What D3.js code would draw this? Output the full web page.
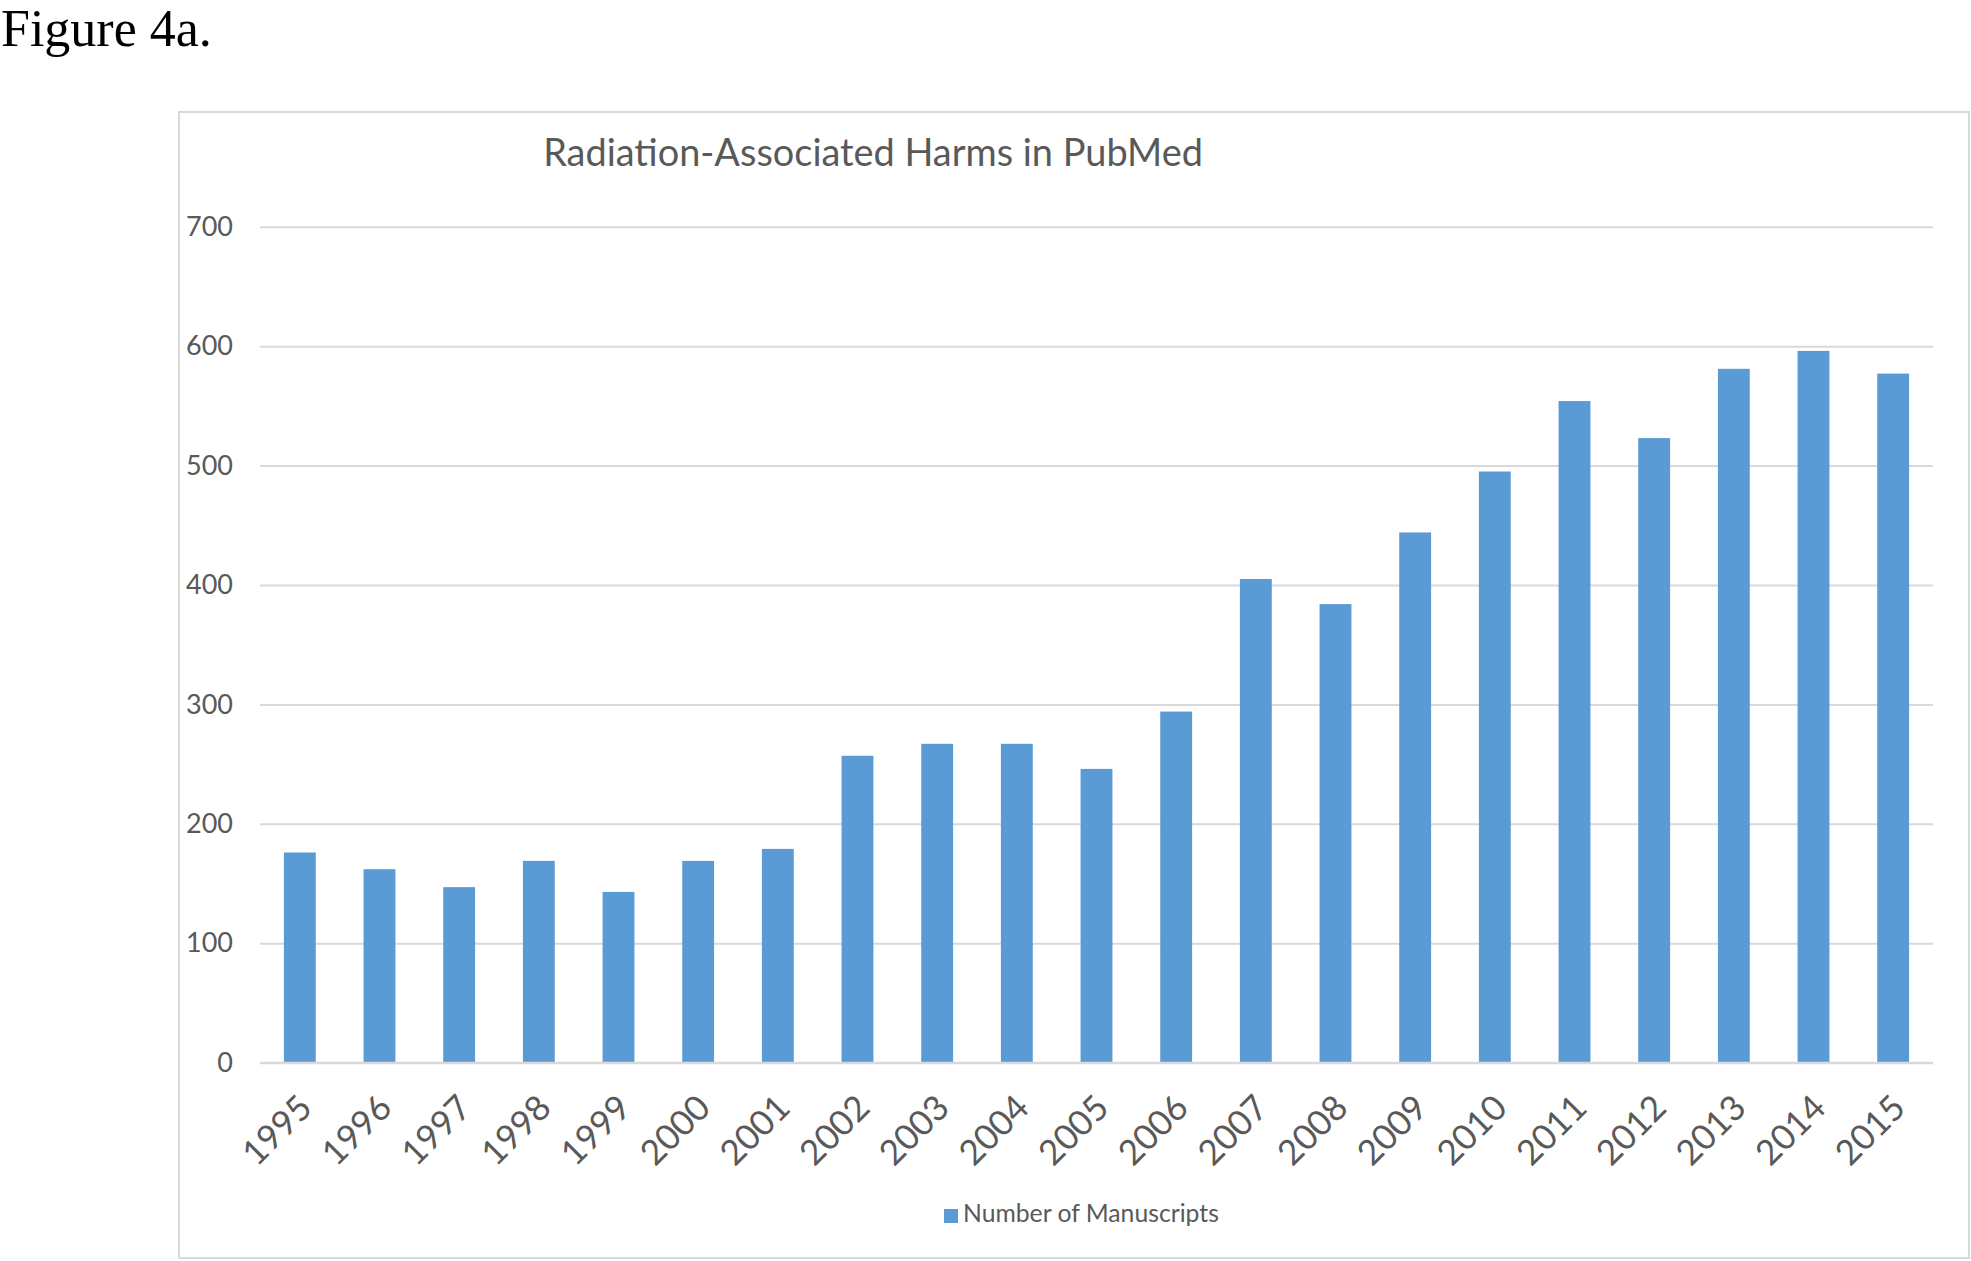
<!DOCTYPE html>
<html>
<head>
<meta charset="utf-8">
<script src="https://cdn.jsdelivr.net/npm/d3@7"></script>
<style>
  html, body { margin: 0; padding: 0; background: #ffffff; }
  svg { display: block; }
</style>
</head>
<body>
<svg id="chart" width="1971" height="1261"></svg>
<script>
// ---- data ----
const years = ["1995","1996","1997","1998","1999","2000","2001","2002","2003","2004","2005","2006","2007","2008","2009","2010","2011","2012","2013","2014","2015"];
const manuscripts = [176,162,147,169,143,169,179,257,267,267,246,294,405,384,444,495,554,523,581,596,577];
const yTicks = [0,100,200,300,400,500,600,700];
const seriesName = "Number of Manuscripts";
const chartTitle = "Radiation-Associated Harms in PubMed";
const figureLabel = "Figure 4a.";

// ---- layout ----
const W = 1971, H = 1261;
const plot = { left: 260, right: 1933, top: 226.7, bottom: 1062.7 };
const frame = { left: 179, top: 112, right: 1969, bottom: 1258 };
const grey = "#595959", gridCol = "#d9d9d9", barCol = "#5b9bd5";
const font = "Lato, 'Open Sans', sans-serif";

const svg = d3.select("#chart");

function fit(sel, target) {
  const n = sel.node();
  const fs = parseFloat(sel.attr("font-size"));
  const w = n.getComputedTextLength();
  sel.attr("font-size", (fs * target / w).toFixed(2));
}

// figure label
svg.append("text")
  .attr("x", 1).attr("y", 46)
  .attr("font-family", "'Liberation Serif', 'Times New Roman', serif")
  .attr("font-size", 52)
  .attr("fill", "#000")
  .text(figureLabel);

// chart frame
svg.append("rect")
  .attr("x", frame.left).attr("y", frame.top)
  .attr("width", frame.right - frame.left).attr("height", frame.bottom - frame.top)
  .attr("fill", "#fff").attr("stroke", gridCol).attr("stroke-width", 2);

// scales
const x = d3.scaleBand().domain(years).range([plot.left, plot.right]).paddingInner(0.6).paddingOuter(0.3);
const y = d3.scaleLinear().domain([0, 700]).range([plot.bottom, plot.top]);

// gridlines + y labels
const yAxis = d3.axisLeft(y).tickValues(yTicks).tickSize(-(plot.right - plot.left)).tickPadding(27).tickFormat(d3.format("d"));
const gy = svg.append("g").attr("transform", `translate(${plot.left},0)`).call(yAxis);
gy.select(".domain").remove();
gy.selectAll(".tick line").attr("stroke", gridCol).attr("stroke-width", 2);
gy.selectAll(".tick text")
  .attr("font-family", font).attr("font-size", 27).attr("fill", grey);
fit(gy.selectAll(".tick text").filter(d => d === 700), 47);
const yfs = gy.selectAll(".tick text").filter(d => d === 700).attr("font-size");
gy.selectAll(".tick text").attr("font-size", yfs);

// bars
svg.append("g").selectAll("rect").data(years).join("rect")
  .attr("x", d => x(d))
  .attr("width", x.bandwidth())
  .attr("y", (d, i) => y(manuscripts[i]))
  .attr("height", (d, i) => y(0) - y(manuscripts[i]))
  .attr("fill", barCol);

// x axis line (0 baseline) + rotated labels
const xAxis = d3.axisBottom(x).tickSize(0).tickPadding(0);
const gx = svg.append("g").attr("transform", `translate(0,${plot.bottom})`).call(xAxis);
gx.select(".domain").attr("stroke", gridCol).attr("stroke-width", 2)
  .attr("d", `M${plot.left},0H${plot.right}`);
gx.selectAll(".tick text")
  .attr("font-family", font).attr("font-size", 35).attr("fill", grey)
  .attr("text-anchor", "end")
  .attr("dy", null).attr("y", null)
  .attr("transform", "translate(8,41) rotate(-45)")
  .attr("dominant-baseline", "middle");

// title
const t = svg.append("text")
  .attr("x", 873).attr("y", 166)
  .attr("text-anchor", "middle")
  .attr("font-family", font).attr("font-size", 34)
  .attr("fill", grey)
  .text(chartTitle);
fit(t, 660);

// legend
svg.append("rect")
  .attr("x", 944).attr("y", 1209).attr("width", 14).attr("height", 14)
  .attr("fill", barCol);
const lt = svg.append("text")
  .attr("x", 963).attr("y", 1216)
  .attr("dominant-baseline", "middle")
  .attr("font-family", font).attr("font-size", 22)
  .attr("fill", grey)
  .text(seriesName);
fit(lt, 256);
</script>
</body>
</html>
